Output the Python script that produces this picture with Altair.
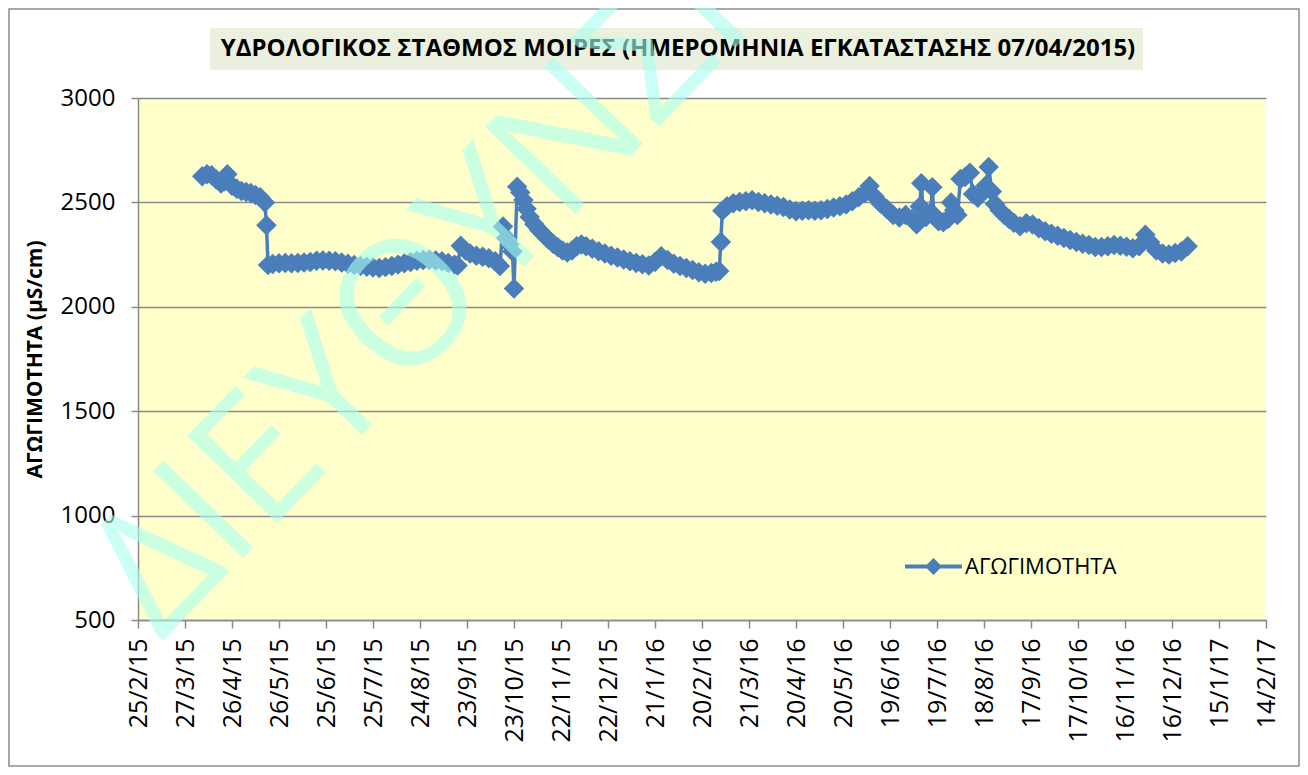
import altair as alt
import pandas as pd

# ---- data ----
dates = [
    "2015-04-07", "2015-04-10", "2015-04-13", "2015-04-16", "2015-04-19", "2015-04-21",
    "2015-04-23", "2015-04-26", "2015-04-29", "2015-05-02", "2015-05-05", "2015-05-08",
    "2015-05-11", "2015-05-14", "2015-05-17", "2015-05-18", "2015-05-19", "2015-05-22",
    "2015-05-26", "2015-05-30", "2015-06-03", "2015-06-07", "2015-06-11", "2015-06-15",
    "2015-06-19", "2015-06-23", "2015-06-27", "2015-07-01", "2015-07-05", "2015-07-09",
    "2015-07-13", "2015-07-17", "2015-07-21", "2015-07-25", "2015-07-29", "2015-08-02",
    "2015-08-06", "2015-08-10", "2015-08-14", "2015-08-18", "2015-08-22", "2015-08-26",
    "2015-08-30", "2015-09-03", "2015-09-07", "2015-09-11", "2015-09-15", "2015-09-17",
    "2015-09-19", "2015-09-22", "2015-09-25", "2015-09-29", "2015-10-03", "2015-10-07",
    "2015-10-11", "2015-10-14", "2015-10-16", "2015-10-18", "2015-10-20", "2015-10-22",
    "2015-10-23", "2015-10-25", "2015-10-27", "2015-10-29", "2015-10-31", "2015-11-02",
    "2015-11-05", "2015-11-08", "2015-11-11", "2015-11-14", "2015-11-17", "2015-11-20",
    "2015-11-23", "2015-11-26", "2015-11-29", "2015-12-02", "2015-12-05", "2015-12-08",
    "2015-12-12", "2015-12-16", "2015-12-20", "2015-12-24", "2015-12-28", "2016-01-01",
    "2016-01-05", "2016-01-09", "2016-01-13", "2016-01-17", "2016-01-21", "2016-01-25",
    "2016-01-29", "2016-02-02", "2016-02-06", "2016-02-10", "2016-02-14", "2016-02-18",
    "2016-02-22", "2016-02-26", "2016-02-29", "2016-03-02", "2016-03-03", "2016-03-04",
    "2016-03-07", "2016-03-11", "2016-03-15", "2016-03-19", "2016-03-23", "2016-03-27",
    "2016-03-31", "2016-04-04", "2016-04-08", "2016-04-12", "2016-04-16", "2016-04-20",
    "2016-04-24", "2016-04-28", "2016-05-02", "2016-05-06", "2016-05-10", "2016-05-14",
    "2016-05-18", "2016-05-22", "2016-05-26", "2016-05-30", "2016-06-03", "2016-06-06",
    "2016-06-09", "2016-06-13", "2016-06-17", "2016-06-21", "2016-06-25", "2016-06-29",
    "2016-07-03", "2016-07-06", "2016-07-08", "2016-07-09", "2016-07-10", "2016-07-12",
    "2016-07-15", "2016-07-16", "2016-07-17", "2016-07-20", "2016-07-23", "2016-07-26",
    "2016-07-28", "2016-07-30", "2016-08-01", "2016-08-03", "2016-08-06", "2016-08-09",
    "2016-08-11", "2016-08-14", "2016-08-17", "2016-08-19", "2016-08-21", "2016-08-23",
    "2016-08-25", "2016-08-28", "2016-08-31", "2016-09-03", "2016-09-06", "2016-09-10",
    "2016-09-14", "2016-09-18", "2016-09-22", "2016-09-26", "2016-09-30", "2016-10-04",
    "2016-10-08", "2016-10-12", "2016-10-16", "2016-10-20", "2016-10-24", "2016-10-28",
    "2016-11-01", "2016-11-05", "2016-11-09", "2016-11-13", "2016-11-17", "2016-11-21",
    "2016-11-25", "2016-11-29", "2016-12-02", "2016-12-06", "2016-12-10", "2016-12-14",
    "2016-12-18", "2016-12-22", "2016-12-26",
]
values = [
    2625, 2635, 2630, 2610, 2590, 2600,
    2635, 2580, 2565, 2555, 2550, 2545,
    2535, 2525, 2500, 2390, 2200, 2205,
    2208, 2210, 2208, 2210, 2212, 2215,
    2220, 2222, 2220, 2218, 2212, 2206,
    2200, 2196, 2192, 2188, 2186, 2190,
    2195, 2202, 2208, 2214, 2220, 2224,
    2225, 2222, 2218, 2210, 2202, 2198,
    2292, 2270, 2255, 2245, 2240, 2232,
    2218, 2195, 2385, 2330, 2300, 2265,
    2088, 2575, 2548, 2512, 2470, 2430,
    2395, 2368, 2345, 2322, 2302, 2285,
    2270, 2260, 2270, 2290, 2298, 2290,
    2278, 2266, 2255, 2245, 2236, 2227,
    2218, 2210, 2204, 2198, 2215, 2242,
    2224, 2206, 2195, 2186, 2176, 2166,
    2158, 2162, 2168, 2172, 2310, 2460,
    2482, 2496, 2502, 2506, 2510, 2502,
    2496, 2490, 2484, 2478, 2466, 2458,
    2460, 2462, 2460, 2462, 2468, 2475,
    2482, 2490, 2505, 2525, 2545, 2578,
    2530, 2495, 2468, 2440, 2428, 2440,
    2420, 2395, 2480, 2592, 2470, 2430,
    2452, 2572, 2440, 2410, 2405, 2420,
    2500, 2462, 2440, 2612, 2622, 2642,
    2540, 2522, 2550, 2580, 2670, 2552,
    2492, 2462, 2440, 2420, 2402, 2386,
    2400, 2394, 2376, 2362, 2350, 2340,
    2330, 2320, 2310, 2302, 2296, 2286,
    2286, 2290, 2296, 2292, 2288, 2280,
    2290, 2345, 2310, 2270, 2255, 2250,
    2258, 2265, 2290,
]
series_name = "ΑΓΩΓΙΜΟΤΗΤΑ"
tick_labels = [
    "25/2/15", "27/3/15", "26/4/15", "26/5/15", "25/6/15", "25/7/15", "24/8/15",
    "23/9/15", "23/10/15", "22/11/15", "22/12/15", "21/1/16", "20/2/16", "21/3/16",
    "20/4/16", "20/5/16", "19/6/16", "19/7/16", "18/8/16", "17/9/16", "17/10/16",
    "16/11/16", "16/12/16", "15/1/17", "14/2/17",
]
y_ticks = [500, 1000, 1500, 2000, 2500, 3000]
title_text = "ΥΔΡΟΛΟΓΙΚΟΣ ΣΤΑΘΜΟΣ ΜΟΙΡΕΣ (ΗΜΕΡΟΜΗΝΙΑ ΕΓΚΑΤΑΣΤΑΣΗΣ 07/04/2015)"
y_title = "ΑΓΩΓΙΜΟΤΗΤΑ (μS/cm)"
watermark = "ΔΙΕΥΘΥΝΣΗ"

# ---- layout ----
W, H = 1128, 522
PAD = {"left": 130, "top": 90, "right": 34, "bottom": 147}
BLUE = "#4A7EBB"
GRID = "#8A8A8A"
FONT = "Open Sans"

df = pd.DataFrame({"date": dates, "value": values, "series": series_name})
tick_ms = [int(pd.to_datetime(s, format="%d/%m/%y").timestamp() * 1000) for s in tick_labels]

x_enc = alt.X(
    "date:T",
    scale=alt.Scale(type="utc", domain=[tick_ms[0], tick_ms[-1]]),
    axis=alt.Axis(
        values=tick_ms,
        labelExpr="utcFormat(datum.value, '%-d/%-m/%y')",
        labelAngle=270,
        labelFontSize=25,
        labelFont=FONT,
        labelColor="#000000",
        labelPadding=10,
        tickSize=8,
        tickColor=GRID,
        tickWidth=1.5,
        domainColor=GRID,
        domainWidth=1.5,
        grid=False,
        title=None,
        labelOverlap=False,
        labelFlush=False,
    ),
)
y_enc = alt.Y(
    "value:Q",
    scale=alt.Scale(domain=[500, 3000], nice=False, zero=False),
    axis=alt.Axis(
        values=y_ticks,
        format="d",
        labelFontSize=24,
        labelFont=FONT,
        labelColor="#000000",
        labelPadding=16,
        tickSize=7,
        tickColor=GRID,
        tickWidth=1.5,
        domainColor=GRID,
        domainWidth=1.5,
        grid=True,
        gridColor=GRID,
        gridWidth=1.5,
        title=y_title,
        titleFont=FONT,
        titleFontSize=21,
        titleFontWeight="bold",
        titleColor="#000000",
        titleAngle=270,
        titleX=-103,
        titleY=H / 2,
        titleAlign="center",
        titleBaseline="middle",
    ),
)
color_enc = alt.Color(
    "series:N",
    scale=alt.Scale(range=[BLUE]),
    legend=alt.Legend(
        title=None,
        orient="none",
        legendX=767,
        legendY=440,
        symbolType="M-1,-0.07L1,-0.07L1,0.07L-1,0.07Z M-0.3,0L0,-0.3L0.3,0L0,0.3Z",
        symbolSize=3249,
        symbolFillColor=BLUE,
        symbolStrokeColor=BLUE,
        symbolStrokeWidth=0,
        labelFont=FONT,
        labelFontSize=22,
        labelColor="#000000",
        labelOffset=3,
        padding=0,
    ),
)

base = alt.Chart(df)
line = base.mark_line(strokeWidth=3.5, color=BLUE).encode(x=x_enc, y=y_enc, color=color_enc)
pts = base.mark_point(shape="diamond", filled=True, size=420, opacity=1, color=BLUE).encode(
    x="date:T", y="value:Q", color=alt.Color("series:N", scale=alt.Scale(range=[BLUE]), legend=None)
)

one = pd.DataFrame({"t": [title_text]})
title_box = alt.Chart(one).mark_rect(color="#EBF1DE").encode(
    x=alt.value(72), x2=alt.value(1005), y=alt.value(-70), y2=alt.value(-28)
)
title_mark = alt.Chart(one).mark_text(
    font=FONT, fontSize=24, fontWeight="bold", color="#000000", align="center", baseline="middle"
).encode(x=alt.value(540), y=alt.value(-49), text="t:N")

border = alt.Chart(pd.DataFrame({"b": [1]})).mark_rect(
    fillOpacity=0, stroke="#8C8C8C", strokeWidth=1.5
).encode(x=alt.value(-129), x2=alt.value(W + PAD["right"] - 1), y=alt.value(-89), y2=alt.value(H + PAD["bottom"] - 1))

wm = alt.Chart(pd.DataFrame({"w": [watermark]})).mark_text(
    font=FONT, fontSize=175, color="#AAFFF0", opacity=0.6, align="center", baseline="alphabetic", angle=314
).encode(x=alt.value(349), y=alt.value(207), text="w:N")

chart = alt.layer(border, title_box, title_mark, line, pts, wm).properties(
    width=W, height=H, padding=PAD, autosize=alt.AutoSizeParams(type="none"), background="#FFFFFF"
).configure_view(fill="#FFFFCC", strokeWidth=0)

chart.save("out.html", embed_options={"renderer": "svg", "actions": False})
